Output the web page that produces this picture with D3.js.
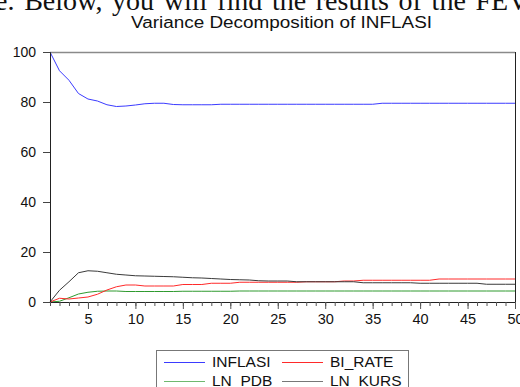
<!DOCTYPE html>
<html>
<head>
<meta charset="utf-8">
<script src="https://cdn.jsdelivr.net/npm/d3@7"></script>
<style>
  html, body { margin: 0; padding: 0; background: #fff; overflow: hidden; }
  svg { display: block; }
</style>
</head>
<body>
<svg id="chart" width="520" height="387"></svg>
<script>
// periods 1..50
const periods = d3.range(1, 51)

const inflasi = [100, 92.5, 88.7, 83.4, 81.2, 80.4, 78.9, 78.2, 78.4, 78.8,
  79.3, 79.5, 79.5, 79.0, 78.9, 78.9, 78.9, 78.9, 79.1, 79.1,
  79.1, 79.1, 79.1, 79.1, 79.1, 79.1, 79.1, 79.1, 79.1, 79.1,
  79.1, 79.1, 79.1, 79.1, 79.1, 79.5, 79.5, 79.5, 79.5, 79.5,
  79.5, 79.5, 79.5, 79.5, 79.5, 79.5, 79.5, 79.5, 79.5, 79.5]

const biRate = [0, 1.5, 1.2, 1.6, 2.0, 3.1, 4.8, 6.1, 6.8, 6.8,
  6.4, 6.4, 6.4, 6.4, 7.0, 7.0, 7.0, 7.5, 7.5, 7.5,
  7.9, 7.9, 7.9, 7.9, 7.9, 7.9, 7.9, 8.1, 8.1, 8.1,
  8.1, 8.4, 8.4, 8.7, 8.7, 8.7, 8.7, 8.7, 8.7, 8.7,
  8.7, 9.2, 9.2, 9.2, 9.2, 9.2, 9.2, 9.2, 9.2, 9.2]

const lnPdb = [0, 0.3, 1.7, 3.2, 3.9, 4.3, 4.4, 4.4, 4.2, 4.2,
  4.2, 4.2, 4.2, 4.2, 4.3, 4.3, 4.3, 4.3, 4.3, 4.3,
  4.4, 4.4, 4.4, 4.4, 4.4, 4.4, 4.4, 4.4, 4.4, 4.4,
  4.4, 4.4, 4.4, 4.4, 4.4, 4.4, 4.4, 4.4, 4.4, 4.4,
  4.4, 4.4, 4.4, 4.4, 4.4, 4.4, 4.4, 4.4, 4.4, 4.4]

const lnKurs = [0, 4.7, 8.1, 11.7, 12.5, 12.3, 11.7, 11.1, 10.8, 10.5,
  10.4, 10.3, 10.2, 10.1, 9.9, 9.7, 9.6, 9.4, 9.2, 9.0,
  8.9, 8.8, 8.5, 8.4, 8.4, 8.4, 8.1, 8.1, 8.1, 8.1,
  8.1, 8.1, 8.1, 7.7, 7.7, 7.7, 7.7, 7.7, 7.7, 7.5,
  7.5, 7.5, 7.5, 7.5, 7.5, 7.5, 7.1, 7.1, 7.1, 7.1]

const seriesNames = ['INFLASI', 'BI_RATE', 'LN_PDB', 'LN_KURS']
const seriesColors = ['#3b3bff', '#ff2a2a', '#2f9a2f', '#3a3a3a']
const legendColors = ['#3b3bff', '#ff2a2a', '#6fb86f', '#777777']
const yTicks = [0, 20, 40, 60, 80, 100]
const xTicks = [5, 10, 15, 20, 25, 30, 35, 40, 45, 50]

const svg = d3.select('#chart')
const sans = 'Arial, "Liberation Sans", sans-serif'

const margin = {left: 50, right: 5, top: 52, bottom: 85}
const width = 520 - margin.left - margin.right
const height = 387 - margin.top - margin.bottom

// page text above the figure (cut off in the screenshot)
svg.append('text')
  .attr('x', -5).attr('y', 10)
  .style('font-family', '"Liberation Serif", "Times New Roman", serif')
  .style('font-size', '28px').style('fill', '#111')
  .style('word-spacing', '2.7px')
  .text('e. Below, you will find the results of the FEVD')

svg.append('text')
  .attr('x', 131).attr('y', 28)
  .attr('textLength', 301).attr('lengthAdjust', 'spacingAndGlyphs')
  .style('font-family', sans)
  .style('font-size', '16px').style('fill', '#111')
  .text('Variance Decomposition of INFLASI')

const g = svg.append('g').attr('transform', `translate(${margin.left},${margin.top})`)

const x = d3.scaleLinear().domain([1, 50]).range([0, width])
const y = d3.scaleLinear().domain([0, 100]).range([height, 0])

// frame: top grey, right dark
g.append('line').attr('x1', 0).attr('x2', width).attr('y1', 0.5).attr('y2', 0.5)
  .attr('stroke', '#8a8a8a').attr('stroke-width', 1.5)
g.append('line').attr('x1', width + 0.5).attr('x2', width + 0.5).attr('y1', 0).attr('y2', height)
  .attr('stroke', '#222').attr('stroke-width', 1)

const line = d3.line().x((d, i) => x(periods[i])).y(d => y(d))
const allSeries = [lnPdb, biRate, lnKurs, inflasi]
const allColors = [seriesColors[2], seriesColors[1], seriesColors[3], seriesColors[0]]
allSeries.forEach((s, i) => {
  g.append('path').datum(s)
    .attr('fill', 'none').attr('stroke', allColors[i]).attr('stroke-width', 1)
    .attr('d', line)
})

// y axis
const yAxis = g.append('g').call(d3.axisLeft(y).tickValues(yTicks).tickSize(7).tickPadding(7))
yAxis.select('.domain').attr('stroke', '#222')
yAxis.selectAll('.tick line').attr('stroke', '#444')
yAxis.selectAll('text').style('font-family', sans)
  .style('font-size', '14px').style('fill', '#111')

// x axis: minor ticks every period, labelled every 5
const xMinor = g.append('g').attr('transform', `translate(0,${height})`)
  .call(d3.axisBottom(x).tickValues(periods).tickSize(4).tickFormat(''))
xMinor.select('.domain').attr('stroke', '#222')
xMinor.selectAll('.tick line').attr('stroke', '#555')

const xAxis = g.append('g').attr('transform', `translate(0,${height})`)
  .call(d3.axisBottom(x).tickValues(xTicks).tickSize(7).tickPadding(5))
xAxis.select('.domain').remove()
xAxis.selectAll('.tick line').attr('stroke', '#555')
xAxis.selectAll('text').style('font-family', sans)
  .style('font-size', '14.5px').style('fill', '#111')

// legend
const legend = svg.append('g').attr('transform', 'translate(156,350)')
legend.append('rect').attr('x', 0.5).attr('y', 0.5).attr('width', 252).attr('height', 60)
  .attr('fill', '#fff').attr('stroke', '#777')
const pos = [[8, 12], [126, 12], [8, 31], [126, 31]]
seriesNames.forEach((name, i) => {
  const [lx, ly] = pos[i]
  legend.append('line').attr('x1', lx).attr('x2', lx + 41).attr('y1', ly + 0.5).attr('y2', ly + 0.5)
    .attr('stroke', legendColors[i]).attr('stroke-width', 1)
  legend.append('text').attr('x', lx + 48).attr('y', ly + 5)
    .style('font-family', sans)
    .style('font-size', '15.5px').style('fill', '#111')
    .text(name)
})
</script>
</body>
</html>
